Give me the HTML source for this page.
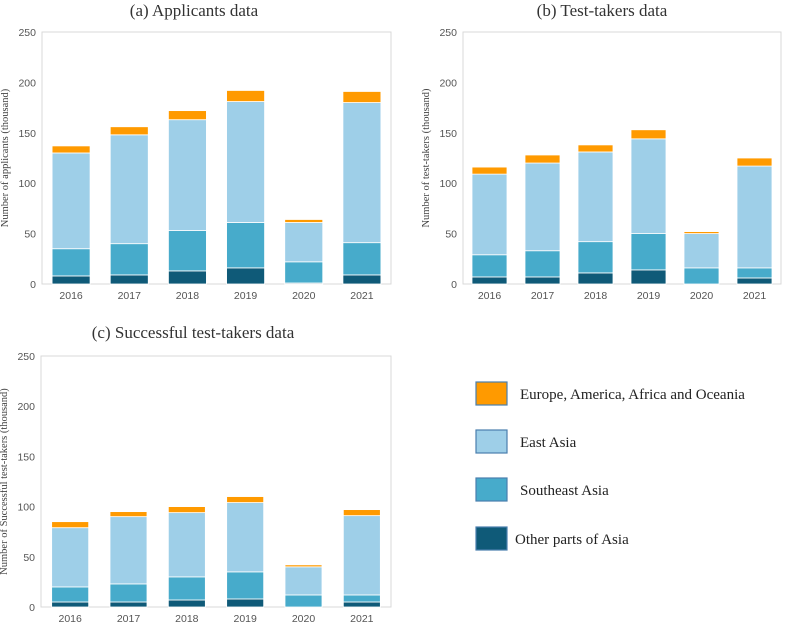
<!DOCTYPE html>
<html><head><meta charset="utf-8"><style>
body{margin:0;background:#fff;width:789px;height:627px;overflow:hidden}
svg{display:block}
.tick{font-family:"Liberation Sans",sans-serif;font-size:10.5px;fill:#555}
.ttl{font-family:"Liberation Serif",serif;font-size:17px;fill:#333}
.yt{font-family:"Liberation Serif",serif;font-size:10.5px;fill:#444}
.leg{font-family:"Liberation Serif",serif;font-size:15px;fill:#222}
</style></head><body>
<svg id="chart" width="789" height="627"></svg>
<script>
const years=["2016","2017","2018","2019","2020","2021"];
const yTicks=[0,50,100,150,200,250];
const seriesNames=["Other parts of Asia","Southeast Asia","East Asia","Europe, America, Africa and Oceania"];
// cumulative tops per panel
const aOther=[8,9,13,16,1,9];
const aSE=[35,40,53,61,22,41];
const aEA=[130,148,163,181,61,180];
const aEU=[137,156,172,192,64,191];
const bOther=[7,7,11,14,0,6];
const bSE=[29,33,42,50,16,16];
const bEA=[109,120,131,144,50,117];
const bEU=[116,128,138,153,52,125];
const cOther=[5,5,7,8,0,5];
const cSE=[20,23,30,35,12,12];
const cEA=[79,90,94,104,40,91];
const cEU=[85,95,100,110,42,97];

const colors=["#0f5a78","#47abcb","#9ecfe8","#ff9a00"];
const NS="http://www.w3.org/2000/svg";
const svg=document.getElementById('chart');
function mk(t,a,p){const e=document.createElementNS(NS,t);for(const k in a)e.setAttribute(k,a[k]);(p||svg).appendChild(e);return e;}

const panels=[
 {id:"a",title:"(a) Applicants data",ylab:"Number of applicants (thousand)",x0:42,x1:391,y0:284,y1:32,bw:38,tx:194,ty:16,data:[aOther,aSE,aEA,aEU]},
 {id:"b",title:"(b) Test-takers data",ylab:"Number of test-takers (thousand)",x0:463,x1:781,y0:284,y1:32,bw:35,tx:602,ty:16,data:[bOther,bSE,bEA,bEU]},
 {id:"c",title:"(c) Successful test-takers data",ylab:"Number of Successful test-takers (thousand)",x0:41,x1:391,y0:607,y1:356,bw:37,tx:193,ty:338,data:[cOther,cSE,cEA,cEU]}
];
panels.forEach(p=>{
 const g=mk('g',{});
 
 
 const ys=v=>p.y0-(v/250)*(p.y0-p.y1);
 const step=(p.x1-p.x0)/years.length;
 const xs=i=>p.x0+step*(i+0.5);
 const t=mk('text',{x:p.tx,y:p.ty,'text-anchor':'middle',class:'ttl'},g);t.textContent=p.title;
 
 
 const box=mk('rect',{x:p.x0,y:p.y1,width:p.x1-p.x0,height:p.y0-p.y1,fill:'none',stroke:'#d9d9d9'},g);
 
 
 yTicks.forEach(v=>{const e=mk('text',{x:p.x0-6,y:ys(v)+4,'text-anchor':'end',class:'tick'},g);e.textContent=v;
  
  });
 const yl=mk('text',{x:0,y:0,'text-anchor':'middle',class:'yt',transform:`translate(${p.x0-34},${(p.y0+p.y1)/2}) rotate(-90)`},g);yl.textContent=p.ylab;
 
 
 years.forEach((yr,i)=>{
  const e=mk('text',{x:xs(i),y:p.y0+15,'text-anchor':'middle',class:'tick'},g);e.textContent=yr;
  
  
  let prev=0;
  p.data.forEach((arr,s)=>{
   const top=arr[i];
   if(top>prev){
    const r=mk('rect',{x:xs(i)-p.bw/2,y:ys(top),width:p.bw,height:ys(prev)-ys(top),fill:colors[s],stroke:'#fff','stroke-width':0.8},g);
    
    
   }
   prev=Math.max(prev,top);
  });
 });
});
// legend
const legY=[382,430,478,527];
const legOrder=[3,2,1,0];
legOrder.forEach((s,k)=>{
 const r=mk('rect',{x:476,y:legY[k],width:31,height:23,fill:colors[s],stroke:'#4a7fae','stroke-width':1.2});
 
 
 const t=mk('text',{x:s===0?515:520,y:legY[k]+17,class:'leg'});t.textContent=seriesNames[s];
 
 
});
</script>
</body></html>
